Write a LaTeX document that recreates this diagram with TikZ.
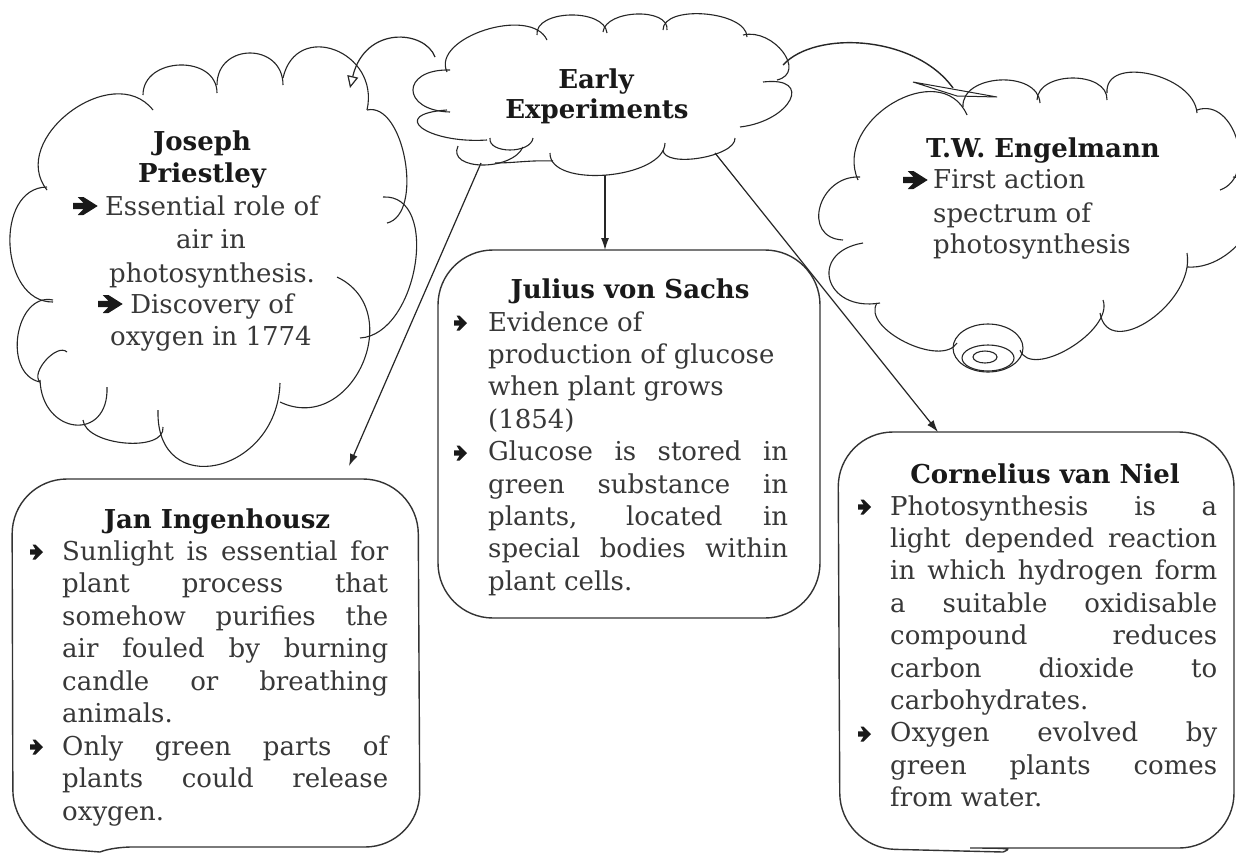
\documentclass[tikz,border=0pt]{standalone}
\usepackage{fontspec}
\setmainfont{DejaVu Serif}
\usetikzlibrary{arrows.meta,calc}

% one cloud lobe: start, outermost point, end
\newcommand\cpuff[3]{\draw[cloudline] #1 .. controls ($0.3333*#1+1.3333*#2-0.6667*#3$) and ($1.3333*#2+0.3333*#3-0.6667*#1$) .. #3;}
% a justified line of the given width
\newlength\linew
\newcommand\jl[1]{\makebox[\linew][s]{#1}}

\begin{document}
\begin{tikzpicture}[x=1pt,y=-1pt,
  cloudline/.style={draw=black!85, line width=1.1pt},
  boxline/.style={draw=black!80, line width=1.4pt, rounded corners=55pt},
  conn/.style={draw=black!85, line width=1.2pt, -{Latex[length=12pt,width=8pt]}},
  txt/.style={font=\fontsize{26}{32.5}\selectfont, text=black!78, inner sep=0pt},
  ttl/.style={font=\fontsize{26}{32.5}\selectfont\bfseries, text=black!90, inner sep=0pt},
  pics/bul/.style={code={\fill[black!90] (0,-2.6) -- (5.5,-2.6) -- (2.5,-7.5) -- (5.5,-7.5) -- (13,0) -- (5.5,7.5) -- (2.5,7.5) -- (5.5,2.6) -- (0,2.6) -- cycle;}},
]
\useasboundingbox (0,0) rectangle (1236,855);
\fill[white] (0,0) rectangle (1236,855);

% ---------- Early Experiments cloud ----------
\cpuff{(487,140)}{(422,128)}{(447,110)}
\cpuff{(450,112)}{(413,90)}{(450,70)}
\cpuff{(447,72)}{(485,30)}{(547,40)}
\cpuff{(537,35)}{(570,15)}{(607,33)}
\cpuff{(603,32)}{(637,14)}{(667,30)}
\cpuff{(663,30)}{(705,14)}{(747,37)}
\cpuff{(743,35)}{(783,52)}{(777,80)}
\cpuff{(763,82)}{(790,100)}{(740,127)}
\cpuff{(735,138)}{(700,158)}{(663,150)}
\cpuff{(665,143)}{(607,175)}{(550,153)}
\draw[cloudline] (553,161) .. controls (530,160) and (515,163) .. (495,163);
\cpuff{(523,147)}{(482,165)}{(458,146)}
\cpuff{(490,138)}{(510,150)}{(533,138)}
\node[ttl, anchor=base] (early1) at (596,88) {Early};
\node[ttl, anchor=base] (early2) at (597,118) {Experiments};

% ---------- Joseph Priestley cloud ----------
\cpuff{(40,382)}{(18,335)}{(53,300)}
\cpuff{(53,302)}{(10,245)}{(47,187)}
\cpuff{(47,190)}{(70,112)}{(153,110)}
\cpuff{(143,95)}{(180,65)}{(217,93)}
\cpuff{(217,85)}{(250,53)}{(283,85)}
\cpuff{(283,78)}{(335,50)}{(367,110)}
\cpuff{(367,110)}{(405,160)}{(387,223)}
\cpuff{(383,197)}{(415,265)}{(360,338)}
\cpuff{(337,277)}{(362,365)}{(280,402)}
\cpuff{(280,383)}{(217,465)}{(158,410)}
\cpuff{(163,427)}{(125,443)}{(83,420)}
\cpuff{(107,387)}{(75,425)}{(40,380)}
\cpuff{(67,352)}{(46,360)}{(40,382)}
\node[ttl, anchor=base] (jp1) at (202,150) {Joseph};
\node[ttl, anchor=base] (jp2) at (202,182) {Priestley};
\node[txt, anchor=base] (jp3) at (212,215) {Essential role of};
\node[txt, anchor=base] (jp4) at (211,248) {air in};
\node[txt, anchor=base] (jp5) at (212,282) {photosynthesis.};
\node[txt, anchor=base] (jp6) at (212,313) {Discovery of};
\node[txt, anchor=base] (jp7) at (211,345) {oxygen in 1774};
\pic[xscale=1.9,yscale=1.2] at (73,206) {bul};
\pic[xscale=1.9,yscale=1.2] at (98,304) {bul};

% ---------- T.W. Engelmann cloud ----------
\cpuff{(843,240)}{(820,207)}{(860,177)}
\cpuff{(858,180)}{(893,103)}{(967,115)}
\cpuff{(963,107)}{(1000,80)}{(1040,103)}
\cpuff{(1037,100)}{(1073,78)}{(1107,100)}
\cpuff{(1107,93)}{(1150,74)}{(1197,113)}
\cpuff{(1197,110)}{(1237,140)}{(1220,190)}
\cpuff{(1233,177)}{(1252,225)}{(1187,267)}
\cpuff{(1187,253)}{(1150,320)}{(1100,313)}
\cpuff{(1103,300)}{(1070,348)}{(1020,350)}
\cpuff{(957,343)}{(905,342)}{(877,303)}
\cpuff{(880,303)}{(830,280)}{(863,243)}
\draw[cloudline] (988,348) ellipse [x radius=35, y radius=24];
\draw[cloudline] (988,358) ellipse [x radius=26, y radius=13];
\draw[cloudline] (985,357) ellipse [x radius=12, y radius=6];
\node[ttl, anchor=base] (tw1) at (1043,157) {T.W. Engelmann};
\node[txt, anchor=base west] (tw2) at (933,188) {First action};
\node[txt, anchor=base west] (tw3) at (933,222) {spectrum of};
\node[txt, anchor=base west] (tw4) at (933,253) {photosynthesis};
\pic[xscale=1.9,yscale=1.2] at (903,180) {bul};

% ---------- Jan Ingenhousz box ----------
\draw[boxline] (100,852) -- (13,845) -- (12,479) -- (418,479) -- (420,847) -- (190,847) [sharp corners] .. controls (140,847) and (115,846) .. (100,852);
\node[ttl, anchor=base] (jiT) at (217,528) {Jan Ingenhousz};
\setlength\linew{326pt}
\foreach \t [count=\i from 0] in {{\jl{Sunlight is essential for}}, {\jl{plant process that}}, {\jl{somehow purifies the}}, {\jl{air fouled by burning}}, {\jl{candle or breathing}}, {animals.}, {\jl{Only green parts of}}, {\jl{plants could release}}, {oxygen.}}
  \node[txt, anchor=base west] (ji\i) at (62,560+\i*32.5) {\t};
\pic at (30,552) {bul};
\pic at (30,747) {bul};

% ---------- Julius von Sachs box ----------
\draw[boxline] (438,250) rectangle (820,618);
\node[ttl, anchor=base] (jsT) at (630,298) {Julius von Sachs};
\setlength\linew{300pt}
\foreach \t [count=\i from 0] in {{Evidence of}, {production of glucose}, {when plant grows}, {(1854)}, {\jl{Glucose is stored in}}, {\jl{green substance in}}, {\jl{plants, located in}}, {\jl{special bodies within}}, {plant cells.}}
  \node[txt, anchor=base west] (js\i) at (488,331+\i*32.4) {\t};
\pic at (454,323) {bul};
\pic at (454,453) {bul};

% ---------- Cornelius van Niel box ----------
\draw[boxline] (1003,852) -- (840,848) -- (838,432) -- (1234,432) -- (1234,848) -- (1025,848) [sharp corners] .. controls (1015,848) and (1010,849) .. (1003,852);
\node[ttl, anchor=base] (cvT) at (1045,483) {Cornelius van Niel};
\setlength\linew{327pt}
\foreach \t [count=\i from 0] in {{\jl{Photosynthesis is a}}, {\jl{light depended reaction}}, {\jl{in which hydrogen form}}, {\jl{a suitable oxidisable}}, {\jl{compound reduces}}, {\jl{carbon dioxide to}}, {carbohydrates.}, {\jl{Oxygen evolved by}}, {\jl{green plants comes}}, {from water.}}
  \node[txt, anchor=base west] (cv\i) at (890,515+\i*32.4) {\t};
\pic at (858,507) {bul};
\pic at (858,734) {bul};

% ---------- connectors ----------
\coordinate (eJ) at (481,163);
\coordinate (jTop) at (349,466);
\coordinate (eS) at (605,175);
\coordinate (sTop) at (605,250);
\coordinate (eC) at (715,153);
\coordinate (cTop) at (938,432);
\coordinate (eP) at (435,57);
\coordinate (pTop) at (350,88);
\coordinate (eT) at (783,65);
\coordinate (tIn) at (953,88);
\coordinate (hBack) at (913,82);
\coordinate (hTip) at (997,97);
\coordinate (hNotch) at (957,96);

\draw[conn] (eJ) -- (jTop);
\draw[conn] (eS) -- (sTop);
\draw[conn] (eC) -- (cTop);
\draw[draw=black!85, line width=1.2pt, -{Triangle[open,length=12pt,width=11pt]}] (eP) .. controls (425,30) and (365,25) .. (pTop);
\draw[draw=black!85, line width=1.4pt] (eT) .. controls (815,30) and (915,35) .. (tIn);
\draw[draw=black!85, line width=1pt] (hBack) -- (hTip) -- (hNotch) -- cycle;
\end{tikzpicture}
\end{document}
